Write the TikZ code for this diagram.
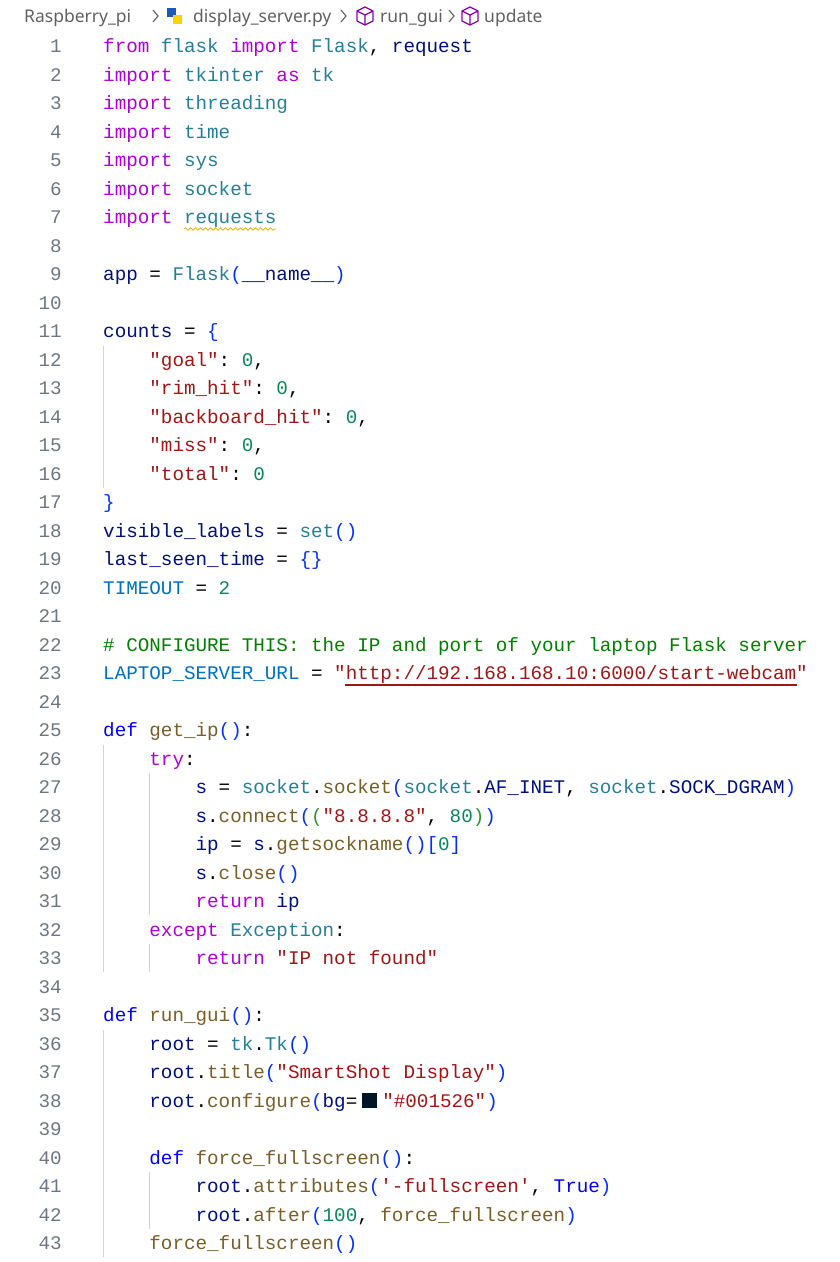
\documentclass[tikz,border=0pt]{standalone}
\usepackage{fontspec}
\usetikzlibrary{decorations.pathmorphing}
\newfontfamily\codefont{Liberation Mono}
\newfontfamily\uifont{Noto Sans}
\definecolor{ckw}{HTML}{AF00DB}
\definecolor{cdf}{HTML}{0000FF}
\definecolor{cmd}{HTML}{267F99}
\definecolor{cvr}{HTML}{001080}
\definecolor{cfn}{HTML}{795E26}
\definecolor{cst}{HTML}{A31515}
\definecolor{cnm}{HTML}{098658}
\definecolor{ccm}{HTML}{008000}
\definecolor{ccn}{HTML}{0070C1}
\definecolor{cbk}{HTML}{0431FA}
\definecolor{cbg}{HTML}{319331}
\definecolor{cln}{HTML}{6E7681}
\definecolor{cgd}{HTML}{D3D3D3}
\definecolor{cui}{HTML}{616161}
\definecolor{csq}{HTML}{001526}
\newcommand\kw[1]{\textcolor{ckw}{#1}}
\newcommand\df[1]{\textcolor{cdf}{#1}}
\newcommand\md[1]{\textcolor{cmd}{#1}}
\newcommand\vr[1]{\textcolor{cvr}{#1}}
\newcommand\fn[1]{\textcolor{cfn}{#1}}
\newcommand\st[1]{\textcolor{cst}{#1}}
\newcommand\nm[1]{\textcolor{cnm}{#1}}
\newcommand\cm[1]{\textcolor{ccm}{#1}}
\newcommand\cn[1]{\textcolor{ccn}{#1}}
\newcommand\bk[1]{\textcolor{cbk}{#1}}
\newcommand\bgk[1]{\textcolor{cbg}{#1}}
\newcommand\cl[3]{%
  \node[codetext] (c#1) at ({103+#2*11.55},{46+(#1-1)*28.5+6.5}) {#3};%
  \node[lnum] (n#1) at (62,{46+(#1-1)*28.5+6.5}) {#1};}
\newcommand\el[1]{\node[lnum] (n#1) at (62,{46+(#1-1)*28.5+6.5}) {#1};}
\newcommand\guide[3]{\draw[guideline] ({#1},{46+(#2-1)*28.5-14}) -- ({#1},{46+(#3-1)*28.5+14});}
\begin{document}
\begin{tikzpicture}[x=1pt,y=-1pt,
  codetext/.style={anchor=base west,inner sep=0pt,font=\codefont\fontsize{19.25}{22}\selectfont\frenchspacing,text=black},
  lnum/.style={anchor=base east,inner sep=0pt,font=\codefont\fontsize{19.25}{22}\selectfont,text=cln},
  ui/.style={anchor=base west,inner sep=0pt,font=\uifont\fontsize{17.5}{22}\selectfont,text=cui},
  chev/.style={draw=cui,line width=1.1pt},
  cube/.style={draw=ckw!80!black,line width=1.2pt,line join=round},
  guideline/.style={draw=cgd,line width=1pt}]
\useasboundingbox (0,0) rectangle (840,1262);
% breadcrumb
\node[ui] (b1) at (24,22) {Raspberry\_pi};
\draw[chev] (153,10) -- (158,16) -- (153,22);
\fill[cmd!70!blue] (167,8) rectangle (176,17);
\fill[yellow!70!orange] (173,15) rectangle (182,24);
\node[ui] (b2) at (193,22) {display\_server.py};
\draw[chev] (341,10) -- (346,16) -- (341,22);
\draw[cube] (365,7) -- (373,11) -- (373,21) -- (365,25) -- (357,21) -- (357,11) -- cycle (357,11) -- (365,15) -- (373,11) (365,15) -- (365,25);
\node[ui] (b3) at (380,22) {run\_gui};
\draw[chev] (449,10) -- (454,16) -- (449,22);
\draw[cube] (470,7) -- (478,11) -- (478,21) -- (470,25) -- (462,21) -- (462,11) -- cycle (462,11) -- (470,15) -- (478,11) (470,15) -- (470,25);
\node[ui] (b4) at (484,22) {update};
% guides
\guide{103}{12}{16}
\guide{103}{26}{33}
\guide{149}{27}{31}
\guide{149}{33}{33}
\guide{103}{36}{43}
\guide{149}{41}{42}
% code
\cl{1}{0}{\kw{from} \md{flask} \kw{import} \md{Flask}, \vr{request}}
\cl{2}{0}{\kw{import} \md{tkinter} \kw{as} \md{tk}}
\cl{3}{0}{\kw{import} \md{threading}}
\cl{4}{0}{\kw{import} \md{time}}
\cl{5}{0}{\kw{import} \md{sys}}
\cl{6}{0}{\kw{import} \md{socket}}
\cl{7}{0}{\kw{import} \md{requests}}
\el{8}
\cl{9}{0}{\vr{app} = \md{Flask}\bk{(}\vr{\_\_name\_\_}\bk{)}}
\el{10}
\cl{11}{0}{\vr{counts} = \bk{\{}}
\cl{12}{4}{\st{"goal"}: \nm{0},}
\cl{13}{4}{\st{"rim\_hit"}: \nm{0},}
\cl{14}{4}{\st{"backboard\_hit"}: \nm{0},}
\cl{15}{4}{\st{"miss"}: \nm{0},}
\cl{16}{4}{\st{"total"}: \nm{0}}
\cl{17}{0}{\bk{\}}}
\cl{18}{0}{\vr{visible\_labels} = \md{set}\bk{()}}
\cl{19}{0}{\vr{last\_seen\_time} = \bk{\{\}}}
\cl{20}{0}{\cn{TIMEOUT} = \nm{2}}
\el{21}
\cl{22}{0}{\cm{\# CONFIGURE THIS: the IP and port of your laptop Flask server}}
\cl{23}{0}{\cn{LAPTOP\_SERVER\_URL} = \st{"http://192.168.168.10:6000/start-webcam"}}
\el{24}
\cl{25}{0}{\df{def} \fn{get\_ip}\bk{()}:}
\cl{26}{4}{\kw{try}:}
\cl{27}{8}{\vr{s} = \md{socket}.\fn{socket}\bk{(}\md{socket}.\vr{AF\_INET}, \md{socket}.\vr{SOCK\_DGRAM}\bk{)}}
\cl{28}{8}{\vr{s}.\fn{connect}\bk{(}\bgk{(}\st{"8.8.8.8"}, \nm{80}\bgk{)}\bk{)}}
\cl{29}{8}{\vr{ip} = \vr{s}.\fn{getsockname}\bk{()[}\nm{0}\bk{]}}
\cl{30}{8}{\vr{s}.\fn{close}\bk{()}}
\cl{31}{8}{\kw{return} \vr{ip}}
\cl{32}{4}{\kw{except} \md{Exception}:}
\cl{33}{8}{\kw{return} \st{"IP not found"}}
\el{34}
\cl{35}{0}{\df{def} \fn{run\_gui}\bk{()}:}
\cl{36}{4}{\vr{root} = \md{tk}.\md{Tk}\bk{()}}
\cl{37}{4}{\vr{root}.\fn{title}\bk{(}\st{"SmartShot Display"}\bk{)}}
\cl{38}{4}{\vr{root}.\fn{configure}\bk{(}\vr{bg}=\makebox[25pt][c]{\textcolor{csq}{\rule[-1pt]{15pt}{15pt}}}\st{"\#001526"}\bk{)}}
\el{39}
\cl{40}{4}{\df{def} \fn{force\_fullscreen}\bk{()}:}
\cl{41}{8}{\vr{root}.\fn{attributes}\bk{(}\st{'-fullscreen'}, \df{True}\bk{)}}
\cl{42}{8}{\vr{root}.\fn{after}\bk{(}\nm{100}, \fn{force\_fullscreen}\bk{)}}
\cl{43}{4}{\fn{force\_fullscreen}\bk{()}}
% underlines
\coordinate (w1) at (184,229);
\coordinate (w2) at (276,229);
\draw[draw=yellow!60!orange!90!black,line width=0.9pt,decorate,decoration={snake,segment length=5pt,amplitude=1.2pt}] (w1) -- (w2);
\coordinate (u1) at (345,685);
\coordinate (u2) at (797,685);
\draw[draw=cst,line width=1.6pt] (u1) -- (u2);
\end{tikzpicture}
\end{document}
